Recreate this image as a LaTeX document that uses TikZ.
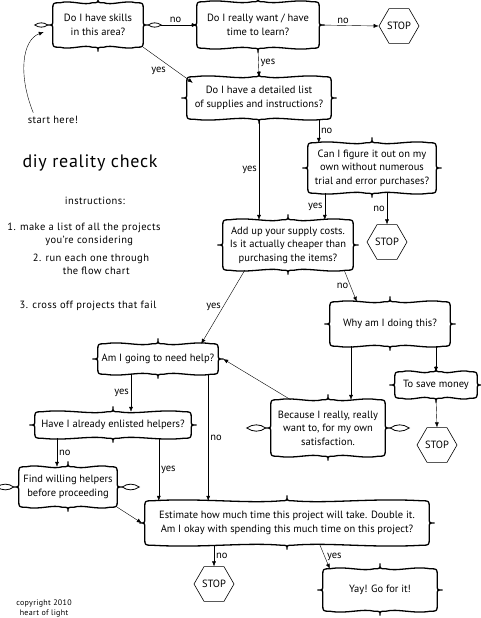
\documentclass[tikz,border=0pt]{standalone}
\usepackage{fontspec}
\setmainfont{PT Sans}
\newfontfamily\widefont[LetterSpace=4]{PT Sans}
\usetikzlibrary{shapes.geometric,arrows.meta,calc}

\tikzset{
  qbox/.style={inner sep=2pt, align=center},
  frame/.style={line width=1.3pt, line join=round},
  leaf/.style={line width=0.8pt},
  stopsign/.style={draw, regular polygon, regular polygon sides=6, minimum size=40pt, inner sep=0pt, line width=0.6pt},
  lbl/.style={inner sep=2pt},
  side/.style={font=\widefont\fontsize{10.5}{13}\selectfont, align=center},
}

% curly frame round a node
\newcommand{\fancyframe}[1]{%
  \draw[frame]
    ([yshift=-7pt]#1.north west) -- ([yshift=5pt]#1.west)
    .. controls (#1.west) .. ([xshift=-5pt]#1.west)
    .. controls (#1.west) .. ([yshift=-5pt]#1.west)
    -- ([yshift=7pt]#1.south west)
    .. controls (#1.south west) .. ([xshift=7pt]#1.south west)
    .. controls ([yshift=-3pt]$(#1.south west)!0.4!(#1.south)$) and ([yshift=3pt]$(#1.south west)!0.7!(#1.south)$) .. ([xshift=-6pt]#1.south)
    .. controls (#1.south) .. ([yshift=-4pt]#1.south)
    .. controls (#1.south) .. ([xshift=6pt]#1.south)
    .. controls ([yshift=3pt]$(#1.south)!0.3!(#1.south east)$) and ([yshift=-3pt]$(#1.south)!0.6!(#1.south east)$) .. ([xshift=-7pt]#1.south east)
    .. controls (#1.south east) .. ([yshift=7pt]#1.south east)
    -- ([yshift=-5pt]#1.east)
    .. controls (#1.east) .. ([xshift=5pt]#1.east)
    .. controls (#1.east) .. ([yshift=5pt]#1.east)
    -- ([yshift=-7pt]#1.north east)
    .. controls (#1.north east) .. ([xshift=-7pt]#1.north east)
    .. controls ([yshift=3pt]$(#1.north east)!0.4!(#1.north)$) and ([yshift=-3pt]$(#1.north east)!0.7!(#1.north)$) .. ([xshift=6pt]#1.north)
    .. controls (#1.north) .. ([yshift=5pt]#1.north)
    .. controls (#1.north) .. ([xshift=-6pt]#1.north)
    .. controls ([yshift=-3pt]$(#1.north)!0.3!(#1.north west)$) and ([yshift=3pt]$(#1.north)!0.6!(#1.north west)$) .. ([xshift=7pt]#1.north west)
    .. controls (#1.north west) .. ([yshift=-7pt]#1.north west) -- cycle;}

% leaf ornaments on both sides
\newcommand{\leafpair}[2]{%
  \draw[leaf] ([xshift=-5pt]#1.west) to[bend left=35] ([xshift=-#2]#1.west) to[bend left=35] ([xshift=-5pt]#1.west);
  \draw[leaf] ([xshift=5pt]#1.east) to[bend left=35] ([xshift=#2]#1.east) to[bend left=35] ([xshift=5pt]#1.east);}

\begin{document}
\begin{tikzpicture}[x=1pt, y=-1pt, >={Latex[length=5pt,width=4pt]},
    every node/.style={font=\fontsize{10.5}{13.5}\selectfont}]
  \useasboundingbox (0,0) rectangle (480,618);

  % questions
  \node[qbox, minimum width=90pt, minimum height=44pt] (skills) at (98,25) {Do I have skills\\in this area?};
  \node[qbox, minimum width=122pt, minimum height=46pt] (want) at (258,25) {Do I really want / have\\time to learn?};
  \node[qbox, minimum width=144pt, minimum height=42pt] (list) at (259,98) {Do I have a detailed list\\of supplies and instructions?};
  \node[qbox, minimum width=128pt, minimum height=50pt] (figure) at (372,168) {Can I figure it out on my\\own without numerous\\trial and error purchases?};
  \node[qbox, minimum width=130pt, minimum height=50pt] (cost) at (288,245) {Add up your supply costs.\\Is it actually cheaper than\\purchasing the items?};
  \node[qbox, minimum width=120pt, minimum height=44pt] (why) at (390,324) {Why am I doing this?};
  \node[qbox, minimum width=120pt, minimum height=30pt] (help) at (158,359) {Am I going to need help?};
  \node[qbox, minimum width=156pt, minimum height=26pt] (enlisted) at (113,425) {Have I already enlisted helpers?};
  \node[qbox, minimum width=98pt, minimum height=40pt] (find) at (68,487) {Find willing helpers\\before proceeding};
  \node[qbox, minimum width=114pt, minimum height=56pt] (because) at (328,428) {Because I really, really\\want to, for my own\\satisfaction.};
  \node[qbox, minimum width=82pt, minimum height=26pt] (money) at (436,385) {To save money};
  \node[qbox, minimum width=284pt, minimum height=44pt] (estimate) at (287,523) {Estimate how much time this project will take. Double it.\\Am I okay with spending this much time on this project?};
  \node[qbox, minimum width=114pt, minimum height=42pt] (yay) at (380,590) {Yay! Go for it!};

  \foreach \n in {skills,want,list,figure,cost,why,help,enlisted,find,because,money,estimate,yay}
    \fancyframe{\n};
  \leafpair{skills}{18pt}
  \leafpair{find}{22pt}
  \leafpair{because}{24pt}

  % stop signs
  \node[stopsign] (stop1) at (399,26) {STOP};
  \node[stopsign] (stop2) at (387,242) {STOP};
  \node[stopsign] (stop3) at (437,445) {STOP};
  \node[stopsign] (stop4) at (214,584) {STOP};

  % side texts
  \node[side] (start) at (53,120) {start here!};
  \node[font=\widefont\fontsize{18}{22}\selectfont] (title) at (90,163) {diy reality check};
  \node[side] (instr) at (95,201) {instructions:};
  \node[side] (step1) at (84,234) {1. make a list of all the projects\\\quad you’re considering};
  \node[side] (step2) at (91,264) {2. run each one through\\\quad the flow chart};
  \node[side] (step3) at (88,306) {3. cross off projects that fail};
  \node[side, font=\widefont\fontsize{8}{10}\selectfont] (copy) at (44,608) {copyright 2010\\heart of light};

  % connectors
  \draw[->] ([xshift=9pt]start.north west) .. controls (18,75) and (22,40) .. ([xshift=-9pt,yshift=-7pt]skills.west);
  \draw[->] ([xshift=18pt]skills.east) -- node[lbl, above, pos=0.4] {no} (want.west);
  \draw[->] (want.east) -- node[lbl, above, pos=0.4] {no} (stop1.west);
  \draw[->] (skills.south east) -- node[lbl, below left] {yes} ([xshift=6pt,yshift=-6pt]list.north west);
  \draw[->] (want.south) -- node[lbl, right] {yes} (list.north);
  \draw[->] ([xshift=11pt]figure.north west |- list.south) -- node[lbl, right] {no} ([xshift=11pt]figure.north west);
  \draw[->] (list.south) -- node[lbl, left] {yes} (list.south |- cost.north);
  \draw[->] ([xshift=17pt]figure.south west) -- node[lbl, left] {yes} ([xshift=17pt]figure.south west |- cost.north);
  \draw[->] (figure.south -| stop2.north) -- node[lbl, left] {no} (stop2.north);
  \draw[->] ([xshift=22pt]cost.south west) -- node[lbl, left] {yes} ([xshift=-17pt]help.north east);
  \draw[->] ([xshift=-9pt]cost.south east) -- node[lbl, left] {no} ([xshift=27pt]why.north west);
  \draw[->] ([xshift=23pt]because.north |- why.south) -- ([xshift=23pt]because.north);
  \draw[->] (money.north |- why.south) -- (money.north);
  \draw[->] (money.south) -- (stop3.north);
  \draw[->] ([xshift=20pt]because.north west) -- ([xshift=5pt]help.east);
  \draw[->] ([xshift=18pt]enlisted.north |- help.south) -- node[lbl, left] {yes} ([xshift=18pt]enlisted.north);
  \draw[->] ([xshift=-10pt]help.south east) -- node[lbl, right] {no} ([xshift=-10pt]help.south east |- estimate.north);
  \draw[->] ([xshift=-11pt]find.north |- enlisted.south) -- node[lbl, right] {no} ([xshift=-11pt]find.north);
  \draw[->] ([xshift=14pt]estimate.north west |- enlisted.south) -- node[lbl, right] {yes} ([xshift=14pt]estimate.north west);
  \draw[->] (find.south east) -- ([xshift=-3pt]estimate.west);
  \draw[->] (stop4.north |- estimate.south) -- node[lbl, right] {no} (stop4.north);
  \draw[->] ([xshift=33pt]estimate.south) -- node[lbl, right] {yes} ([xshift=7pt]yay.north west);
\end{tikzpicture}
\end{document}
